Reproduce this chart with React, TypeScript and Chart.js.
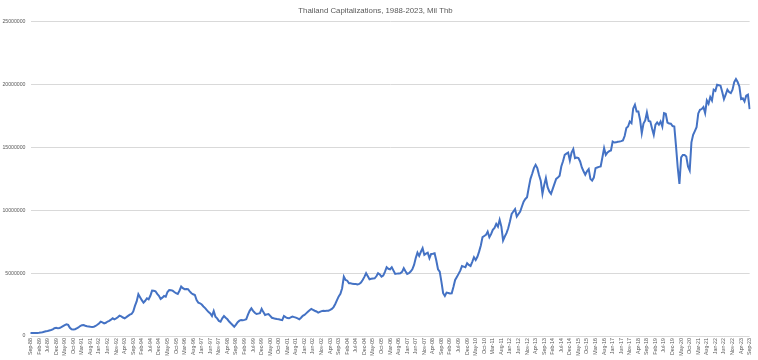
import React, { useEffect, useRef } from "react";
import { Chart, registerables } from "chart.js";

Chart.register(...registerables);

const TITLE = "Thailand Capitalizations, 1988-2023, Mil Thb";
const MONTH_NAMES = ["Jan", "Feb", "Mar", "Apr", "May", "Jun", "Jul", "Aug", "Sep", "Oct", "Nov", "Dec"];
const START_YEAR = 1988;
const START_MONTH = 8; // Sep
const LABEL_EVERY = 5;
const Y_MIN = 0;
const Y_MAX = 25000000;
const Y_STEP = 5000000;

// Market capitalization, million Thai baht, monthly
const v1988 = [240000, 235000, 230000, 235000];
const v1989 = [245000, 255000, 270000, 300000, 335000, 370000, 400000, 440000, 480000, 530000, 620000, 660000];
const v1990 = [610000, 640000, 700000, 780000, 860000, 930000, 880000, 650000, 530000, 510000, 540000, 613000];
const v1991 = [680000, 790000, 860000, 875000, 820000, 780000, 760000, 730000, 715000, 740000, 800000, 897000];
const v1992 = [1000000, 1140000, 1080000, 1000000, 1050000, 1150000, 1200000, 1300000, 1410000, 1330000, 1400000, 1485000];
const v1993 = [1620000, 1560000, 1470000, 1410000, 1500000, 1600000, 1700000, 1750000, 1950000, 2390000, 2750000, 3320000];
const v1994 = [3080000, 2850000, 2650000, 2800000, 3000000, 2920000, 3200000, 3610000, 3600000, 3560000, 3350000, 3200000];
const v1995 = [2950000, 3050000, 3180000, 3130000, 3500000, 3660000, 3640000, 3610000, 3500000, 3400000, 3340000, 3600000];
const v1996 = [3930000, 3800000, 3720000, 3730000, 3720000, 3550000, 3400000, 3320000, 3260000, 2850000, 2650000, 2600000];
const v1997 = [2500000, 2350000, 2220000, 2050000, 1900000, 1800000, 1590000, 1990000, 1540000, 1400000, 1200000, 1140000];
const v1998 = [1400000, 1590000, 1450000, 1330000, 1150000, 1010000, 880000, 740000, 900000, 1100000, 1220000, 1268000];
const v1999 = [1250000, 1280000, 1330000, 1700000, 2000000, 2200000, 2000000, 1850000, 1750000, 1780000, 1810000, 2150000];
const v2000 = [1900000, 1670000, 1720000, 1750000, 1600000, 1450000, 1410000, 1380000, 1350000, 1330000, 1290000, 1270000];
const v2001 = [1590000, 1500000, 1430000, 1410000, 1480000, 1540000, 1500000, 1460000, 1400000, 1330000, 1450000, 1600000];
const v2002 = [1670000, 1800000, 1930000, 2050000, 2150000, 2080000, 2010000, 1950000, 1860000, 1920000, 1980000, 2010000];
const v2003 = [1990000, 2000000, 2010000, 2070000, 2150000, 2300000, 2550000, 2850000, 3150000, 3350000, 3800000, 4720000];
const v2004 = [4460000, 4400000, 4190000, 4200000, 4150000, 4140000, 4140000, 4100000, 4140000, 4250000, 4460000, 4700000];
const v2005 = [4990000, 4750000, 4510000, 4550000, 4580000, 4590000, 4750000, 4990000, 4900000, 4720000, 4800000, 5100000];
const v2006 = [5470000, 5350000, 5310000, 5470000, 5200000, 4940000, 4960000, 4980000, 4990000, 5100000, 5390000, 5150000];
const v2007 = [4940000, 5000000, 5120000, 5300000, 5650000, 6200000, 6630000, 6370000, 6700000, 6980000, 6450000, 6550000];
const v2008 = [6630000, 6190000, 6530000, 6550000, 6580000, 6000000, 5310000, 5120000, 4300000, 3400000, 3180000, 3450000];
const v2009 = [3420000, 3380000, 3400000, 3900000, 4460000, 4700000, 4940000, 5200000, 5570000, 5520000, 5470000, 5790000];
const v2010 = [5650000, 5570000, 5900000, 6270000, 6050000, 6300000, 6710000, 7200000, 7860000, 7950000, 8040000, 8300000];
const v2011 = [7860000, 8100000, 8440000, 8600000, 8920000, 8700000, 9240000, 8700000, 7600000, 7910000, 8180000, 8570000];
const v2012 = [9100000, 9710000, 9900000, 10090000, 9500000, 9700000, 9900000, 10300000, 10690000, 10900000, 11040000, 11800000];
const v2013 = [12500000, 12900000, 13350000, 13610000, 13350000, 12800000, 12350000, 11310000, 12000000, 12560000, 11840000, 11500000];
const v2014 = [11310000, 11700000, 12100000, 12500000, 12600000, 12740000, 13480000, 13900000, 14410000, 14500000, 14590000, 13960000];
const v2015 = [14590000, 14860000, 14150000, 14200000, 14150000, 13880000, 13400000, 13100000, 12820000, 13100000, 13270000, 12500000];
const v2016 = [12360000, 12600000, 13350000, 13400000, 13450000, 13480000, 14200000, 14940000, 14410000, 14600000, 14700000, 14750000];
const v2017 = [15470000, 15390000, 15400000, 15450000, 15470000, 15500000, 15550000, 15900000, 16540000, 16660000, 17060000, 16930000];
const v2018 = [18100000, 18390000, 17860000, 17860000, 17200000, 16140000, 16900000, 17140000, 17780000, 17100000, 17060000, 16500000];
const v2019 = [16000000, 16800000, 16980000, 16800000, 17060000, 16660000, 17730000, 17680000, 16980000, 16900000, 16880000, 16700000];
const v2020 = [16660000, 15100000, 13400000, 12100000, 14200000, 14400000, 14400000, 14280000, 13480000, 13160000, 15400000, 16000000];
const v2021 = [16300000, 16600000, 17700000, 17990000, 18050000, 18210000, 17730000, 18730000, 18470000, 19000000, 18730000, 19590000];
const v2022 = [19500000, 19980000, 19950000, 19900000, 19400000, 18840000, 19190000, 19590000, 19400000, 19320000, 19590000, 20200000];
const v2023 = [20440000, 20200000, 19850000, 18840000, 18900000, 18650000, 19110000, 19190000, 18050000];

const VALUES: number[] = [
  ...v1988, ...v1989, ...v1990, ...v1991, ...v1992, ...v1993, ...v1994, ...v1995, ...v1996,
  ...v1997, ...v1998, ...v1999, ...v2000, ...v2001, ...v2002, ...v2003, ...v2004, ...v2005,
  ...v2006, ...v2007, ...v2008, ...v2009, ...v2010, ...v2011, ...v2012, ...v2013, ...v2014,
  ...v2015, ...v2016, ...v2017, ...v2018, ...v2019, ...v2020, ...v2021, ...v2022, ...v2023,
];

const LABELS: string[] = VALUES.map((_, i) => {
  const total = START_MONTH + i;
  const y = START_YEAR + Math.floor(total / 12);
  const mo = total % 12;
  return `${MONTH_NAMES[mo]}-${String(y % 100).padStart(2, "0")}`;
});

const FONT = "'Liberation Sans', Arial, sans-serif";
const TEXT_COLOR = "#595959";
const GRID_COLOR = "#d9d9d9";
const LINE_COLOR = "#4472C4";

export default function App() {
  const ref = useRef<HTMLCanvasElement | null>(null);

  useEffect(() => {
    if (!ref.current) return;
    const chart = new Chart(ref.current, {
      type: "line",
      data: {
        labels: LABELS,
        datasets: [
          {
            data: VALUES,
            borderColor: LINE_COLOR,
            backgroundColor: LINE_COLOR,
            borderWidth: 2,
            pointRadius: 0,
            tension: 0,
            fill: false,
          },
        ],
      },
      options: {
        animation: false,
        responsive: false,
        devicePixelRatio: 1,
        layout: { padding: { left: 0, right: 7, top: 0, bottom: 0 } },
        plugins: {
          legend: { display: false },
          tooltip: { enabled: false },
          title: {
            display: true,
            text: TITLE,
            color: TEXT_COLOR,
            font: { family: FONT, size: 7.8, weight: "normal" },
            padding: { top: 6, bottom: 6.3 },
          },
        },
        scales: {
          x: {
            type: "category",
            offset: false,
            grid: { display: false, drawTicks: false, tickLength: 0 },
            border: { display: false },
            ticks: {
              autoSkip: false,
              maxRotation: 90,
              minRotation: 90,
              padding: 2,
              color: TEXT_COLOR,
              font: { family: FONT, size: 5.3 },
              callback: (_v: any, i: number) => (i % LABEL_EVERY === 0 ? LABELS[i] : null),
            },
            afterFit: (s: any) => {
              s.height = 24;
            },
          },
          y: {
            min: Y_MIN,
            max: Y_MAX,
            grid: { color: GRID_COLOR, lineWidth: 1, drawTicks: false },
            border: { display: false },
            ticks: {
              stepSize: Y_STEP,
              padding: 5,
              color: TEXT_COLOR,
              font: { family: FONT, size: 5.2 },
              callback: (v: any) => String(v),
            },
            afterFit: (s: any) => {
              s.width = 30.5;
            },
          },
        },
      },
    });
    return () => chart.destroy();
  }, []);

  return (
    <div style={{ position: "absolute", left: 0, top: 0, width: 758, height: 360, background: "#fff" }}>
      <canvas ref={ref} width={758} height={360} style={{ width: 758, height: 360, display: "block" }} />
    </div>
  );
}
